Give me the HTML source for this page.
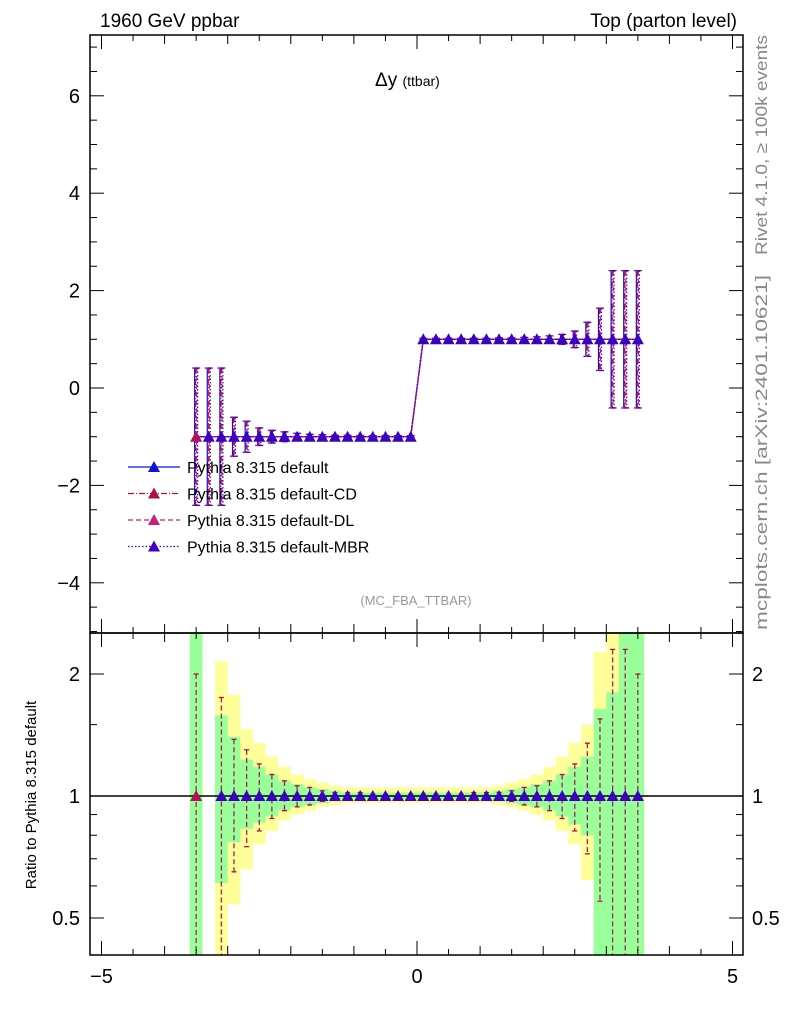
<!DOCTYPE html>
<html><head><meta charset="utf-8"><style>
body{margin:0;background:#fff;}
svg{display:block;font-family:"Liberation Sans",sans-serif;}
</style></head><body>
<svg id="chart" width="786" height="1024" viewBox="0 0 786 1024" xmlns="http://www.w3.org/2000/svg">
<g id="bands"></g>
<g id="marks"></g>
<g id="axes"></g>
<text x="100" y="27" font-size="19">1960 GeV ppbar</text>
<text x="737" y="27" font-size="19" text-anchor="end">Top (parton level)</text>
<text x="375" y="86" font-size="19">Δy <tspan font-size="14">(ttbar)</tspan></text>
<text x="416" y="605" font-size="13" fill="#999" text-anchor="middle">(MC_FBA_TTBAR)</text>
<text transform="translate(767,255) rotate(-90)" font-size="17" fill="#888" textLength="220" lengthAdjust="spacingAndGlyphs">Rivet 4.1.0, ≥ 100k events</text>
<text transform="translate(767,630) rotate(-90)" font-size="17" fill="#888" textLength="355" lengthAdjust="spacingAndGlyphs">mcplots.cern.ch [arXiv:2401.10621]</text>
<text transform="translate(36,795) rotate(-90)" font-size="15" text-anchor="middle">Ratio to Pythia 8.315 default</text>
<g id="legend"></g>
</svg>
<script>
const xCenters=[-3.5,-3.3,-3.1,-2.9,-2.7,-2.5,-2.3,-2.1,-1.9,-1.7,-1.5,-1.3,-1.1,-0.9,-0.7,-0.5,-0.3,-0.1,0.1,0.3,0.5,0.7,0.9,1.1,1.3,1.5,1.7,1.9,2.1,2.3,2.5,2.7,2.9,3.1,3.3,3.5];
const yValues=[-1,-1,-1,-1,-1,-1,-1,-1,-1,-1,-1,-1,-1,-1,-1,-1,-1,-1,1,1,1,1,1,1,1,1,1,1,1,1,1,1,1,1,1,1];
const yErrors=[1.41,1.41,1.41,0.4,0.32,0.18,0.13,0.1,0.07,0.05,0.04,0.03,0.03,0.02,0.02,0.02,0.02,0.02,0.02,0.02,0.02,0.02,0.02,0.02,0.03,0.03,0.04,0.05,0.07,0.1,0.17,0.35,0.64,1.41,1.41,1.41];
const greenUp=[2.6,0,1.58,1.4,1.23,1.18,1.13,1.09,1.07,1.05,1.04,1.03,1.02,1.02,1.02,1.02,1.02,1.02,1.02,1.02,1.02,1.02,1.02,1.02,1.03,1.04,1.05,1.07,1.09,1.13,1.18,1.25,1.64,1.8,2.6,2.6];
const greenDn=[0.4,0,0.61,0.77,0.83,0.86,0.89,0.92,0.94,0.95,0.96,0.97,0.98,0.98,0.98,0.98,0.98,0.98,0.98,0.98,0.98,0.98,0.98,0.98,0.97,0.96,0.95,0.94,0.92,0.89,0.85,0.8,0.4,0.4,0.4,0.4];
const yellowUp=[2.6,0,2.15,1.78,1.46,1.35,1.25,1.18,1.13,1.1,1.08,1.06,1.05,1.05,1.05,1.05,1.05,1.05,1.05,1.05,1.05,1.05,1.05,1.05,1.06,1.08,1.1,1.13,1.18,1.25,1.35,1.5,2.27,2.6,2.6,2.6];
const yellowDn=[0.4,0,0.4,0.54,0.66,0.76,0.82,0.87,0.9,0.92,0.94,0.95,0.96,0.96,0.96,0.96,0.96,0.96,0.96,0.96,0.96,0.96,0.96,0.96,0.95,0.94,0.92,0.9,0.87,0.82,0.76,0.62,0.44,0.4,0.4,0.4];
const ratioErrUp=[2.0,1.0,1.75,1.38,1.3,1.2,1.13,1.09,1.06,1.05,1.03,1.02,1.02,1.02,1.01,1.01,1.01,1.01,1.01,1.01,1.01,1.01,1.02,1.02,1.02,1.03,1.05,1.06,1.09,1.13,1.2,1.35,1.55,2.3,2.3,2.0];
const ratioErrDn=[0.4,1.0,0.4,0.65,0.75,0.82,0.88,0.92,0.94,0.95,0.97,0.98,0.98,0.98,0.99,0.99,0.99,0.99,0.99,0.99,0.99,0.99,0.98,0.98,0.98,0.97,0.95,0.94,0.92,0.88,0.82,0.72,0.55,0.4,0.4,0.4];
const yTicksMain=[-4,-2,0,2,4,6];
const xTicks=[-5,0,5];
const ratioTicks=[0.5,1,2];
const seriesNames=["Pythia 8.315 default","Pythia 8.315 default-CD","Pythia 8.315 default-DL","Pythia 8.315 default-MBR"];
const seriesColors=["#1010e0","#b0103c","#c8207a","#4000c0"];
const seriesDash=["","6,2,1,2","5,3","1.5,2"];

const NS="http://www.w3.org/2000/svg";
const L=90,R=743,T=35,M=633,B=955;
const sx=v=>417+v*63.1;
const sy=v=>388-v*48.7;
const ry=v=>796-Math.log2(v)*122;
const cr=v=>Math.max(T,Math.min(M,v));
const crr=v=>Math.max(M,Math.min(B,v));
function mk(tag,attrs,parent){const e=document.createElementNS(NS,tag);for(const k in attrs)e.setAttribute(k,attrs[k]);parent.appendChild(e);return e;}
const bands=document.getElementById('bands'),marks=document.getElementById('marks'),axes=document.getElementById('axes'),legend=document.getElementById('legend');
const hw=0.1*63.1;
xCenters.forEach((x,i)=>{
  if(!greenUp[i])return;
  const y1=mk('rect',{x:sx(x)-hw,y:crr(ry(yellowUp[i])),width:2*hw,height:crr(ry(yellowDn[i]))-crr(ry(yellowUp[i])),fill:'#ffff99'},bands);
  
  
  const g1=mk('rect',{x:sx(x)-hw,y:crr(ry(greenUp[i])),width:2*hw,height:crr(ry(greenDn[i]))-crr(ry(greenUp[i])),fill:'#99ff99'},bands);
  
  
});
mk('line',{x1:L,x2:R,y1:ry(1),y2:ry(1),stroke:'#000','stroke-width':1.5},marks);
seriesNames.forEach((n,s)=>{
  const c=seriesColors[s],d=seriesDash[s];
  let pts=xCenters.map((x,i)=>sx(x)+','+cr(sy(yValues[i]))).join(' ');
  const pl=mk('polyline',{points:pts,fill:'none',stroke:c,'stroke-width':1.3,'stroke-dasharray':d},marks);
  
  
  xCenters.forEach((x,i)=>{
    const off=(s-1.5)*1.0;
    const X=sx(x)+off;
    const e=yErrors[i];
    mk('line',{x1:X,x2:X,y1:cr(sy(yValues[i]+e)),y2:cr(sy(yValues[i]-e)),stroke:c,'stroke-width':1.2,'stroke-dasharray':d},marks);
    mk('line',{x1:X-2.5,x2:X+2.5,y1:sy(yValues[i]+e),y2:sy(yValues[i]+e),stroke:c,'stroke-width':1.2},marks);
    mk('line',{x1:X-2.5,x2:X+2.5,y1:sy(yValues[i]-e),y2:sy(yValues[i]-e),stroke:c,'stroke-width':1.2},marks);
  });
});
// ratio error bars (one per bin, CD dashed)
xCenters.forEach((x,i)=>{
  if(i===1)return;
  const X=sx(x);
  const l=mk('line',{x1:X,x2:X,y1:crr(ry(ratioErrUp[i])),y2:crr(ry(ratioErrDn[i])),stroke:'#a0205a','stroke-width':1.3,'stroke-dasharray':'5,3'},marks);
  
  
  mk('line',{x1:X-2.5,x2:X+2.5,y1:ry(ratioErrUp[i]),y2:ry(ratioErrUp[i]),stroke:'#b0103c','stroke-width':1.3,'visibility':ry(ratioErrUp[i])>M?'visible':'hidden'},marks);
  mk('line',{x1:X-2.5,x2:X+2.5,y1:ry(ratioErrDn[i]),y2:ry(ratioErrDn[i]),stroke:'#b0103c','stroke-width':1.3,'visibility':ry(ratioErrDn[i])<B?'visible':'hidden'},marks);
});
xCenters.forEach((x,i)=>{
  const col=i===0?'#b0105a':'#3c00c0';
  const X=sx(x),Y=sy(yValues[i]);
  const t=mk('polygon',{points:`${X-6},${Y+5} ${X+6},${Y+5} ${X},${Y-6}`,fill:col},marks);
  
  
  if(i!==1){
    const Yr=ry(1);
    const t2=mk('polygon',{points:`${X-6},${Yr+5} ${X+6},${Yr+5} ${X},${Yr-6}`,fill:col},marks);
    
    
  }
});
mk('rect',{x:L,y:T,width:R-L,height:M-T,fill:'none',stroke:'#000','stroke-width':1.5},axes);
mk('rect',{x:L,y:M,width:R-L,height:B-M,fill:'none',stroke:'#000','stroke-width':1.5},axes);
for(let k=-10;k<=10;k++){
  const v=k*0.5,X=sx(v),len=(k%2===0)?(k%10===0?14:9):6;
  mk('line',{x1:X,x2:X,y1:T,y2:T+len,stroke:'#000'},axes);
  mk('line',{x1:X,x2:X,y1:B,y2:B-len,stroke:'#000'},axes);
  mk('line',{x1:X,x2:X,y1:M,y2:M-len,stroke:'#000'},axes);
  mk('line',{x1:X,x2:X,y1:M,y2:M+len,stroke:'#000'},axes);
}
xTicks.forEach(v=>{
  const t=mk('text',{x:sx(v),y:983,'font-size':20,'text-anchor':'middle'},axes);
  t.textContent=v<0?'−'+Math.abs(v):String(v);
  
  
});
for(let k=-10;k<=14;k++){
  const v=k*0.5,Y=sy(v);if(Y<T||Y>M)continue;
  const len=(k%4===0)?14:7;
  mk('line',{x1:L,x2:L+len,y1:Y,y2:Y,stroke:'#000'},axes);
  mk('line',{x1:R,x2:R-len,y1:Y,y2:Y,stroke:'#000'},axes);
}
yTicksMain.forEach(v=>{
  const t=mk('text',{x:80,y:sy(v)+7,'font-size':20,'text-anchor':'end'},axes);
  t.textContent=v<0?'−'+Math.abs(v):String(v);
  
  
});
[0.5,0.6,0.7,0.8,0.9,1,1.5,2].forEach(v=>{
  const Y=ry(v),len=(v===0.5||v===1||v===2)?14:7;
  mk('line',{x1:L,x2:L+len,y1:Y,y2:Y,stroke:'#000'},axes);
  mk('line',{x1:R,x2:R-len,y1:Y,y2:Y,stroke:'#000'},axes);
});
ratioTicks.forEach(v=>{
  const t=mk('text',{x:80,y:ry(v)+7,'font-size':20,'text-anchor':'end'},axes);
  t.textContent=String(v);
  
  
  const t2=mk('text',{x:752,y:ry(v)+7,'font-size':20},axes);
  t2.textContent=String(v);
  
  
});
seriesNames.forEach((n,s)=>{
  const Y=467+s*26.5,c=seriesColors[s];
  const g=mk('g',{},legend);
  
  
  mk('line',{x1:128,x2:180,y1:Y,y2:Y,stroke:c,'stroke-width':1.3,'stroke-dasharray':seriesDash[s]},g);
  mk('polygon',{points:`${148},${Y+5} ${160},${Y+5} ${154},${Y-6}`,fill:c},g);
  const t=mk('text',{x:187,y:Y+6,'font-size':16},g);
  t.textContent=n;
});
</script>
</body></html>
